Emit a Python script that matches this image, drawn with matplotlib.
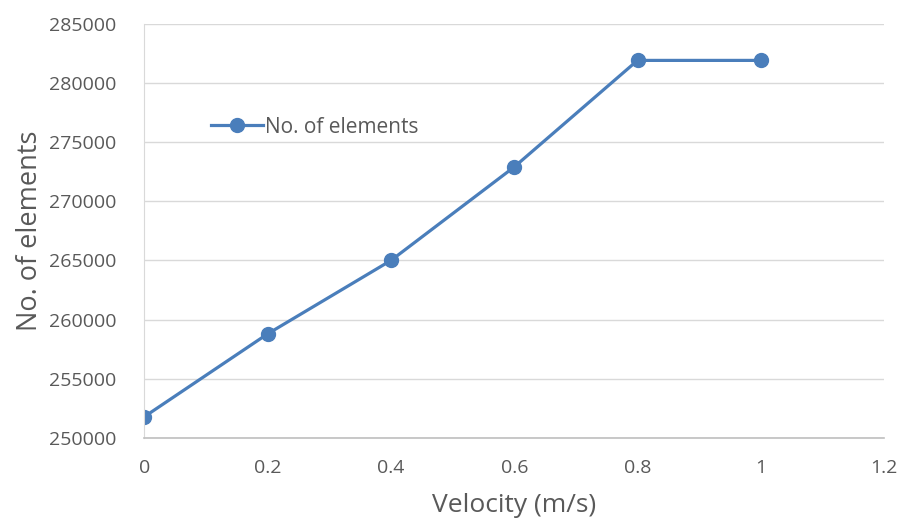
import matplotlib
matplotlib.use("Agg")
import matplotlib.pyplot as plt

# data
velocity = [0, 0.2, 0.4, 0.6, 0.8, 1.0]
n_elements = [251800, 258800, 265000, 272900, 281900, 281900]
xticks = [0, 0.2, 0.4, 0.6, 0.8, 1, 1.2]
xtick_labels = ["0", "0.2", "0.4", "0.6", "0.8", "1", "1.2"]
yticks = [250000, 255000, 260000, 265000, 270000, 275000, 280000, 285000]

plt.rcParams['font.family'] = ['Open Sans', 'DejaVu Sans']

fig = plt.figure(figsize=(9.03, 5.27), dpi=100)
ax = fig.add_axes([0.16, 0.169, 0.819, 0.786])

blue = '#4a7ebb'
ax.plot(velocity, n_elements, color=blue, lw=2.3, marker='o', ms=10,
        label='No. of elements')

ax.set_xlim(0, 1.2)
ax.set_ylim(250000, 285000)
ax.set_xticks(xticks)
ax.set_xticklabels(xtick_labels)
ax.set_yticks(yticks)

ax.grid(axis='y', color='#d9d9d9', lw=1)
ax.set_axisbelow(True)
for s in ['top', 'right']:
    ax.spines[s].set_visible(False)
ax.spines['left'].set_color('#d9d9d9')
ax.spines['bottom'].set_color('#bfbfbf')
ax.spines['bottom'].set_linewidth(1.2)
ax.tick_params(length=0, labelsize=14, colors='#595959')
ax.tick_params(axis='y', pad=20)
ax.tick_params(axis='x', pad=15)

ax.set_xlabel('Velocity (m/s)', fontsize=19, color='#595959', labelpad=12)
ax.set_ylabel('No. of elements', fontsize=19.5, color='#595959', labelpad=4)

leg = ax.legend(loc='center left', bbox_to_anchor=(0.064, 0.75), frameon=False,
                fontsize=15, handlelength=2.5, handletextpad=0.1, labelcolor='#595959')

fig.savefig('out.png', dpi=100, facecolor='white')
